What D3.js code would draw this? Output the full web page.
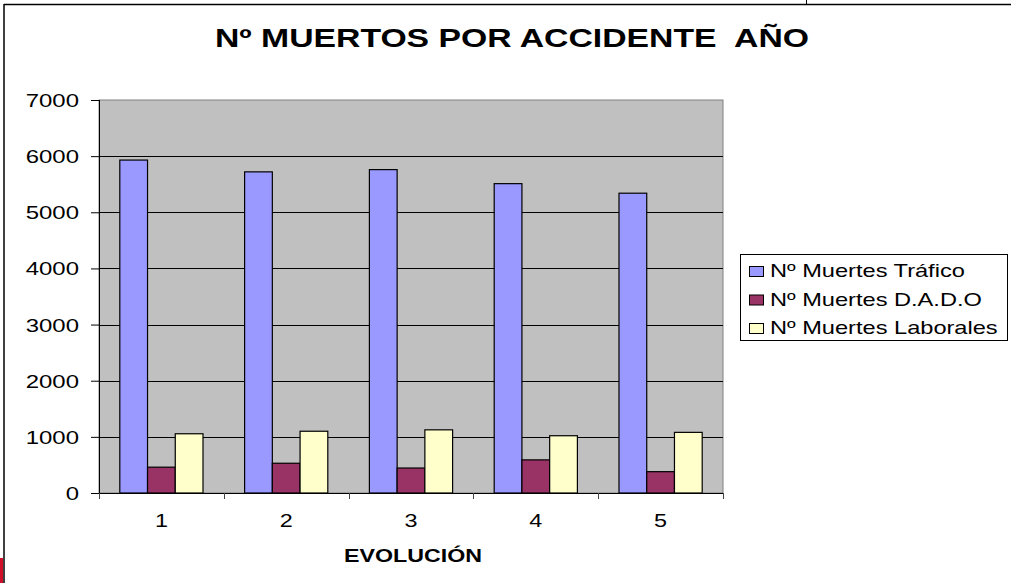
<!DOCTYPE html>
<html>
<head>
<meta charset="utf-8">
<script src="https://cdn.jsdelivr.net/npm/d3@7"></script>
<style>
  body { margin: 0; background: #fff; }
  text { font-family: "Liberation Sans", Arial, sans-serif; fill: #000; }
</style>
</head>
<body>
<div id="chart"></div>
<script>
// Data
var categories = ["1", "2", "3", "4", "5"];
var seriesNames = ["Nº Muertes Tráfico", "Nº Muertes D.A.D.O", "Nº Muertes Laborales"];
var trafico = [5930, 5720, 5760, 5510, 5340];
var dado = [460, 530, 445, 590, 380];
var laborales = [1055, 1100, 1125, 1020, 1080];
var yTicks = [0, 1000, 2000, 3000, 4000, 5000, 6000, 7000];
var colors = ["#9999ff", "#993366", "#ffffcc"];

var seriesValues = [trafico, dado, laborales];

//Define SVG area
var svgWidth = 1011;
var svgHeight = 583;

//Plot area
var plot = { left: 99, top: 100, right: 723, bottom: 493 };

var svg = d3.select("#chart")
    .append("svg")
    .attr("width", svgWidth)
    .attr("height", svgHeight);

// text stretched horizontally like the original picture
function addText(g, x, y, str, size, sx, anchor, bold) {
    return g.append("text")
        .attr("transform", `translate(${x}, ${y}) scale(${sx}, 1)`)
        .attr("text-anchor", anchor)
        .attr("font-size", size + "px")
        .attr("font-weight", bold ? "bold" : "normal")
        .text(str);
}

//Outer frame pieces
svg.append("line").attr("x1", 4).attr("y1", 4.5).attr("x2", svgWidth).attr("y2", 4.5)
    .attr("stroke", "#000").attr("stroke-width", 1.5);
svg.append("line").attr("x1", 4).attr("y1", 4).attr("x2", 4).attr("y2", svgHeight)
    .attr("stroke", "#000").attr("stroke-width", 1.5);
svg.append("line").attr("x1", 806.5).attr("y1", 0).attr("x2", 806.5).attr("y2", 4)
    .attr("stroke", "#000").attr("stroke-width", 1);
svg.append("rect").attr("x", 0).attr("y", 558).attr("width", 3).attr("height", 25)
    .attr("fill", "#d0102a");

//Title
addText(svg, 512, 47, "Nº MUERTOS POR ACCIDENTE  AÑO", 25, 1.35, "middle", true)
    .style("white-space", "pre");

//Scales
var xScale = d3.scaleBand()
    .domain(categories)
    .range([plot.left, plot.right])
    .padding(0);

var xSub = d3.scaleBand()
    .domain(seriesNames)
    .range([0, xScale.bandwidth()])
    .paddingInner(0)
    .paddingOuter(0.75);

var yScale = d3.scaleLinear()
    .domain([0, 7000])
    .range([plot.bottom, plot.top]);

//Plot background
svg.append("rect")
    .attr("x", plot.left)
    .attr("y", plot.top)
    .attr("width", plot.right - plot.left)
    .attr("height", plot.bottom - plot.top)
    .attr("fill", "#c0c0c0")
    .attr("stroke", "#808080")
    .attr("stroke-width", 1);

//Gridlines
svg.append("g").selectAll("line")
    .data(yTicks.filter(d => d > 0 && d < 7000))
    .enter()
    .append("line")
    .attr("x1", plot.left)
    .attr("x2", plot.right)
    .attr("y1", d => Math.round(yScale(d)) + 0.5)
    .attr("y2", d => Math.round(yScale(d)) + 0.5)
    .attr("stroke", "#000")
    .attr("stroke-width", 1);

//Bars
var groups = svg.append("g").selectAll("g")
    .data(seriesValues)
    .enter()
    .append("g")
    .attr("fill", (d, i) => colors[i]);

groups.selectAll("rect")
    .data((vals, si) => vals.map((v, ci) => ({ v: v, cat: categories[ci], s: seriesNames[si] })))
    .enter()
    .append("rect")
    .attr("x", d => xScale(d.cat) + xSub(d.s))
    .attr("y", d => yScale(d.v))
    .attr("width", xSub.bandwidth())
    .attr("height", d => plot.bottom - yScale(d.v))
    .attr("stroke", "#000")
    .attr("stroke-width", 1.2);

//Y axis
var leftAxis = d3.axisLeft(yScale)
    .tickValues(yTicks)
    .tickSize(8)
    .tickFormat("");

var yAxis = svg.append("g")
    .attr("transform", `translate(${plot.left}, 0)`)
    .call(leftAxis);
yAxis.select(".domain").attr("stroke", "#000").attr("d", `M0.5,${plot.top}V${plot.bottom}`);
yAxis.selectAll(".tick line").attr("stroke", "#000");

yTicks.forEach(function(t) {
    addText(svg, 79, yScale(t) + 7, String(t), 19, 1.26, "end", false);
});

//X axis
var bottomAxis = d3.axisBottom(xScale)
    .tickSize(0)
    .tickFormat("");

var xAxis = svg.append("g")
    .attr("transform", `translate(0, ${plot.bottom})`)
    .call(bottomAxis);
xAxis.select(".domain").attr("stroke", "#000").attr("d", `M${plot.left},0.5H${plot.right}`);

var boundaries = categories.map(c => xScale(c)).concat([plot.right]);
svg.append("g").selectAll("line")
    .data(boundaries)
    .enter()
    .append("line")
    .attr("x1", d => Math.round(d) + 0.5)
    .attr("x2", d => Math.round(d) + 0.5)
    .attr("y1", plot.bottom)
    .attr("y2", plot.bottom + 6)
    .attr("stroke", "#444")
    .attr("stroke-width", 1);

categories.forEach(function(c) {
    addText(svg, xScale(c) + xScale.bandwidth() / 2, 527, c, 18, 1.3, "middle", false);
});

//X axis title
addText(svg, 413, 562, "EVOLUCIÓN", 18, 1.29, "middle", true);

//Legend
var legend = svg.append("g");
legend.append("rect")
    .attr("x", 740.5)
    .attr("y", 254.5)
    .attr("width", 267)
    .attr("height", 86)
    .attr("fill", "#fff")
    .attr("stroke", "#000")
    .attr("stroke-width", 1);

seriesNames.forEach(function(name, i) {
    var baseY = 277 + i * 28.5;
    legend.append("rect")
        .attr("x", 749.5)
        .attr("y", baseY - 10.5)
        .attr("width", 14)
        .attr("height", 10)
        .attr("fill", colors[i])
        .attr("stroke", "#000")
        .attr("stroke-width", 1);
    addText(legend, 770, baseY, name, 17.5, 1.35, "start", false);
});
</script>
</body>
</html>
